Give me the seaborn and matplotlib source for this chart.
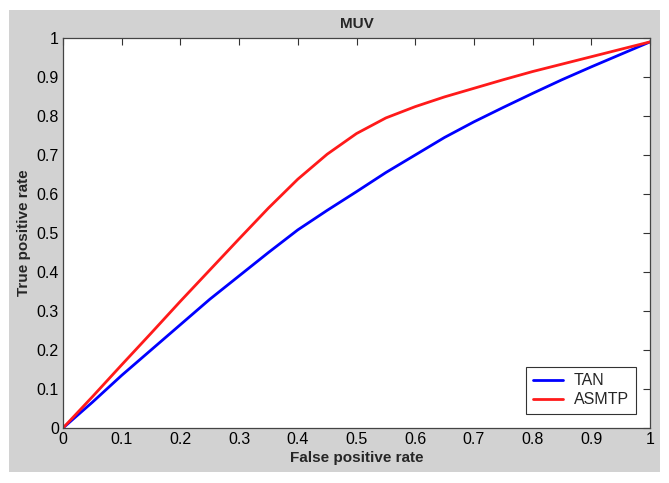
import pandas as pd
import matplotlib.pyplot as plt
from matplotlib.patches import Rectangle
import seaborn as sns

# valores (curva ROC)
fpr = [0.0, 0.05, 0.1, 0.15, 0.2, 0.25, 0.3, 0.35, 0.4, 0.45, 0.5,
       0.55, 0.6, 0.65, 0.7, 0.75, 0.8, 0.85, 0.9, 0.95, 1.0]
tpr_tan = [0.0, 0.066, 0.135, 0.2, 0.265, 0.33, 0.39, 0.45, 0.508, 0.558, 0.606,
           0.655, 0.70, 0.745, 0.785, 0.822, 0.858, 0.893, 0.926, 0.958, 0.99]
tpr_asmtp = [0.0, 0.08, 0.162, 0.243, 0.325, 0.405, 0.485, 0.564, 0.638, 0.702, 0.755,
             0.795, 0.824, 0.849, 0.871, 0.893, 0.914, 0.933, 0.952, 0.971, 0.99]
tick_vals = [0, 0.1, 0.2, 0.3, 0.4, 0.5, 0.6, 0.7, 0.8, 0.9, 1]
tick_labels = ['0', '0.1', '0.2', '0.3', '0.4', '0.5', '0.6', '0.7', '0.8', '0.9', '1']

dados = pd.concat([
    pd.DataFrame({'FPR': fpr, 'TPR': tpr_tan, 'Metodo': 'TAN'}),
    pd.DataFrame({'FPR': fpr, 'TPR': tpr_asmtp, 'Metodo': 'ASMTP'}),
])

sns.set_style('white')
plt.rcParams['font.family'] = ['Liberation Sans', 'DejaVu Sans']

fig = plt.figure(figsize=(6.69, 4.83), dpi=100, facecolor='white')
# fundo cinza estilo MATLAB
fig.patches.append(Rectangle((9 / 669, 1 - 472 / 483), 651 / 669, 462 / 483,
                             transform=fig.transFigure, facecolor='#d2d2d2',
                             edgecolor='none', zorder=-10))
ax = fig.add_axes([63 / 669, 1 - 428 / 483, 587 / 669, 390 / 483])
ax.set_facecolor('white')

sns.lineplot(data=dados, x='FPR', y='TPR', hue='Metodo',
             palette={'TAN': '#0000ff', 'ASMTP': '#ff1a1a'},
             linewidth=2, ax=ax)

ax.set_xlim(0, 1)
ax.set_ylim(0, 1)
ax.set_xticks(tick_vals)
ax.set_xticklabels(tick_labels)
ax.set_yticks(tick_vals)
ax.set_yticklabels(tick_labels)
ax.tick_params(direction='in', length=5, width=0.8, top=True, right=True,
               labelsize=11.5, colors='#333333', labelcolor='black', pad=3)
for s in ax.spines.values():
    s.set_color('#444444')
    s.set_linewidth(0.9)

ax.set_title('MUV', fontsize=11, fontweight='bold', pad=7)
ax.set_xlabel('False positive rate', fontsize=11, fontweight='bold', labelpad=3)
ax.set_ylabel('True positive rate', fontsize=11, fontweight='bold', labelpad=4)

leg = ax.legend(loc='lower right', fontsize=11.5, frameon=True, fancybox=False,
                edgecolor='black', handlelength=1.9, handletextpad=0.7,
                borderaxespad=0.9, borderpad=0.4, labelspacing=0.25)
leg.get_frame().set_linewidth(0.8)

fig.savefig('out.png', dpi=100, facecolor='white')
